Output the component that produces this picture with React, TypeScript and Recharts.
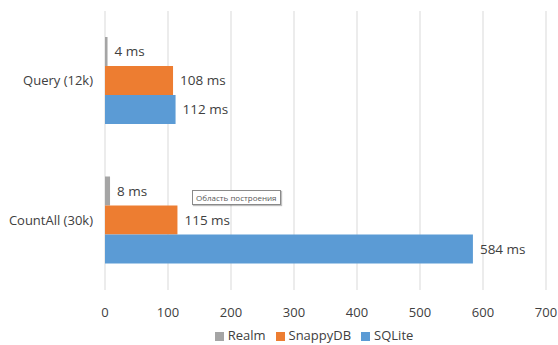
import React from 'react';
import { BarChart, Bar, XAxis, YAxis, CartesianGrid, Legend, LabelList } from 'recharts';

const categories = ['Query (12k)', 'CountAll (30k)'];
const realm = [4, 8];
const snappyDB = [108, 115];
const sqlite = [112, 584];
const xTicks = [0, 100, 200, 300, 400, 500, 600, 700];
const seriesOrder = ['Realm', 'SnappyDB', 'SQLite'];

const data = categories.map((name, i) => ({
  name,
  Realm: realm[i],
  SnappyDB: snappyDB[i],
  SQLite: sqlite[i],
}));

const font = '"Open Sans", "DejaVu Sans", sans-serif';
const fmt = (v: any) => `${v} ms`;

const App: React.FC = () => {
  return (
    <div style={{ position: 'absolute', left: 0, top: 0, width: 558, height: 345, background: '#fff', fontFamily: font }}>
      <BarChart
        width={558}
        height={345}
        data={data}
        layout="vertical"
        margin={{ top: 11, right: 12, left: 0, bottom: 0 }}
        barCategoryGap={26}
        barGap={0}
      >
        <CartesianGrid horizontal={false} stroke="#d9d9d9" />
        <XAxis
          type="number"
          domain={[0, 700]}
          ticks={xTicks}
          axisLine={false}
          tickLine={false}
          tick={{ fill: '#404040', fontSize: 13, fontFamily: font }}
          tickMargin={12}
          height={27}
        />
        <YAxis
          type="category"
          dataKey="name"
          width={105}
          axisLine={false}
          tickLine={false}
          tickMargin={6}
          tick={{ fill: '#404040', fontSize: 13, fontFamily: font }}
        />
        <Legend
          iconType="square"
          iconSize={9}
          height={26}
          itemSorter={(item: any) => seriesOrder.indexOf(item.value)}
          wrapperStyle={{ fontSize: 13, fontFamily: font, color: '#404040', left: 46, bottom: -7, paddingTop: 2 }}
          formatter={(v: string) => <span style={{ color: '#404040' }}>{v}</span>}
        />
        <Bar dataKey="Realm" fill="#a5a5a5" isAnimationActive={false}>
          <LabelList dataKey="Realm" position="right" offset={7} formatter={fmt} fill="#404040" fontSize={13.5} fontFamily={font} />
        </Bar>
        <Bar dataKey="SnappyDB" fill="#ed7d31" isAnimationActive={false}>
          <LabelList dataKey="SnappyDB" position="right" offset={7} formatter={fmt} fill="#404040" fontSize={13.5} fontFamily={font} />
        </Bar>
        <Bar dataKey="SQLite" fill="#5b9bd5" isAnimationActive={false}>
          <LabelList dataKey="SQLite" position="right" offset={7} formatter={fmt} fill="#404040" fontSize={13.5} fontFamily={font} />
        </Bar>
      </BarChart>
      <div
        style={{
          position: 'absolute',
          left: 192,
          top: 190,
          padding: '1px 3px',
          border: '1px solid #8a8a8a',
          background: '#fff',
          fontSize: 8,
          color: '#575757',
          fontFamily: font,
          boxShadow: '1px 1px 1px rgba(0,0,0,0.25)',
          whiteSpace: 'nowrap',
        }}
      >
        Область построения
      </div>
    </div>
  );
};

export default App;
